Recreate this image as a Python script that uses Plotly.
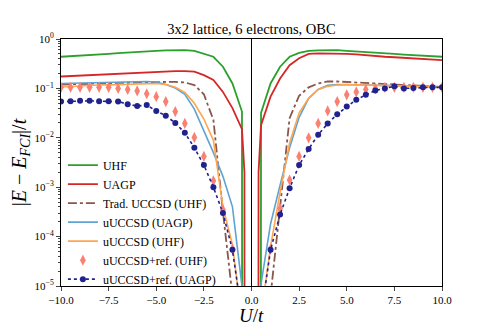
import plotly.graph_objects as go

# U/t grid (step 0.5)
U = [x * 0.5 for x in range(-20, 21)]

uhf = [0.437, 0.447, 0.457, 0.468, 0.490, 0.501, 0.519, 0.537, 0.550, 0.562,
       0.575, 0.589, 0.596, 0.596, 0.575, 0.51, 0.437, 0.275, 0.126, 0.034,
       0.0,
       0.032, 0.126, 0.275, 0.437, 0.525, 0.575, 0.589, 0.596, 0.596, 0.575,
       0.562, 0.550, 0.537, 0.513, 0.501, 0.484, 0.468, 0.457, 0.447, 0.437]

# UAGP has two extra points close to U=0
U_uagp = U[:20] + [-0.37, 0.0, 0.37] + U[21:]
uagp = [0.174, 0.178, 0.182, 0.186, 0.191, 0.195, 0.200, 0.204, 0.209, 0.214,
        0.219, 0.221, 0.224, 0.224, 0.219, 0.186, 0.148, 0.085, 0.040, 0.015,
        0.002, 0.0, 0.002,
        0.018, 0.068, 0.158, 0.295, 0.407, 0.501, 0.513, 0.513, 0.507, 0.501,
        0.490, 0.468, 0.452, 0.437, 0.427, 0.417, 0.403, 0.389, 0.380, 0.372]

trad_uccsd = [0.120, 0.122, 0.123, 0.125, 0.126, 0.127, 0.129, 0.130, 0.132, 0.133,
              0.135, 0.135, 0.135, 0.132, 0.117, 0.076, 0.023, 3.2e-4, 6.3e-6, 3e-7,
              0.0,
              3e-7, 6.3e-6, 4.5e-4, 0.025, 0.071, 0.105, 0.126, 0.138, 0.138, 0.135,
              0.132, 0.126, 0.123, 0.120, 0.117, 0.115, 0.112, 0.110, 0.108, 0.107]

uuccsd_uagp = [0.126, 0.127, 0.129, 0.130, 0.132, 0.133, 0.135, 0.136, 0.138, 0.138,
               0.135, 0.120, 0.102, 0.076, 0.038, 0.0141, 0.0050, 0.00166, 4.0e-4, 1.0e-5,
               0.0,
               1.1e-5, 1.8e-4, 1.1e-3, 6.3e-3, 0.026, 0.063, 0.095, 0.115, 0.120, 0.120,
               0.118, 0.117, 0.116, 0.115, 0.114, 0.112, 0.111, 0.110, 0.108, 0.107]

uuccsd_uhf = [0.107, 0.110, 0.112, 0.115, 0.117, 0.118, 0.120, 0.122, 0.123, 0.124,
              0.126, 0.120, 0.105, 0.083, 0.050, 0.024, 0.0089, 4.0e-4, 6.8e-5, 2.0e-6,
              0.0,
              2.5e-6, 6.3e-5, 7.9e-4, 7.9e-3, 0.032, 0.063, 0.095, 0.110, 0.117, 0.120,
              0.118, 0.117, 0.116, 0.115, 0.114, 0.112, 0.111, 0.110, 0.108, 0.107]

ref_uhf = [0.105, 0.105, 0.105, 0.105, 0.105, 0.105, 0.100, 0.095, 0.089, 0.078,
           0.068, 0.054, 0.034, 0.0195, 0.0102, 0.0042, 0.00135, 3.5e-4, 5.6e-5, 3e-6,
           0.0,
           3e-6, 5.6e-5, 3.7e-4, 1.4e-3, 0.0042, 0.010, 0.0195, 0.035, 0.054, 0.074,
           0.085, 0.095, 0.100, 0.105, 0.105, 0.105, 0.105, 0.105, 0.105, 0.105]

ref_uagp = [0.054, 0.055, 0.056, 0.056, 0.055, 0.055, 0.054, 0.048, 0.044, 0.046,
            0.035, 0.028, 0.020, 0.0126, 0.0063, 0.0028, 0.0010, 3.0e-4, 5.4e-5, 2.5e-6,
            0.0,
            2.5e-6, 5.4e-5, 2.8e-4, 9.5e-4, 0.0028, 0.0059, 0.0115, 0.0195, 0.030, 0.043,
            0.059, 0.074, 0.091, 0.100, 0.110, 0.100, 0.102, 0.105, 0.105, 0.105]

x_ticks = [-10, -7.5, -5, -2.5, 0, 2.5, 5, 7.5, 10]
y_ticks = [1e-5, 1e-4, 1e-3, 1e-2, 1e-1, 1e0]
y_ticktext = ["10<sup>−5</sup>", "10<sup>−4</sup>", "10<sup>−3</sup>",
              "10<sup>−2</sup>", "10<sup>−1</sup>", "10<sup>0</sup>"]


def clip0(vals):
    # exact zeros go to a tiny number so the line drops straight down (like mpl clip)
    return [v if v > 0 else 1e-300 for v in vals]


serif = "Liberation Serif"
fig = go.Figure()

fig.add_trace(go.Scatter(x=U, y=clip0(uhf), mode="lines", name="UHF",
                         line=dict(color="#2ca02c", width=1.8)))
fig.add_trace(go.Scatter(x=U_uagp, y=clip0(uagp), mode="lines", name="UAGP",
                         line=dict(color="#d62728", width=1.8)))
fig.add_trace(go.Scatter(x=U, y=clip0(trad_uccsd), mode="lines", name="Trad. UCCSD (UHF)",
                         line=dict(color="#8c564b", width=1.8, dash="dashdot")))
fig.add_trace(go.Scatter(x=U, y=clip0(uuccsd_uagp), mode="lines", name="uUCCSD (UAGP)",
                         line=dict(color="#5fa3d3", width=1.6)))
fig.add_trace(go.Scatter(x=U, y=clip0(uuccsd_uhf), mode="lines", name="uUCCSD (UHF)",
                         line=dict(color="#ffa54f", width=1.6)))
fig.add_trace(go.Scatter(x=U, y=ref_uhf, mode="markers", name="uUCCSD+ref. (UHF)",
                         marker=dict(symbol="diamond-tall", size=8, color="#fa8072")))
fig.add_trace(go.Scatter(x=U, y=ref_uagp, mode="lines+markers", name="uUCCSD+ref. (UAGP)",
                         line=dict(color="#22228f", width=1.6, dash="dot"),
                         marker=dict(symbol="circle", size=6, color="#22228f")))

# vertical line at U = 0
fig.add_vline(x=0, line=dict(color="black", width=1))

# x axis title as annotation so it sits closer to the tick labels
fig.add_annotation(text="<i>U</i>/<i>t</i>", xref="paper", yref="paper",
                   x=0.5, y=-0.118, yanchor="middle", showarrow=False,
                   font=dict(size=19))

minor_y = [m * 10.0 ** k for k in range(-5, 0) for m in range(2, 10)]

# the page body adds ~8px offset, so margins are shifted accordingly
fig.update_layout(
    width=491, height=327,
    margin=dict(l=53, r=57, t=31, b=49, autoexpand=False),
    plot_bgcolor="white", paper_bgcolor="white",
    font=dict(family=serif, color="black", size=11),
    title=dict(text="3x2 lattice, 6 electrons, OBC", x=0.5, xref="paper",
               y=1 - 21 / 327, yanchor="middle", font=dict(size=14.5)),
    showlegend=True,
    legend=dict(x=0.005, y=0.548, xanchor="left", yanchor="top",
                bgcolor="rgba(0,0,0,0)", font=dict(size=12)),
)

fig.update_xaxes(range=[-10, 10], tickvals=x_ticks, automargin=False,
                 tickformat=".1f", ticks="outside", ticklen=4, tickwidth=1,
                 showline=True, linecolor="black", linewidth=1, mirror=True,
                 showgrid=False, zeroline=False)
fig.update_yaxes(type="log", range=[-5, 0], tickvals=y_ticks, ticktext=y_ticktext,
                 automargin=False,
                 ticks="outside", ticklen=4, tickwidth=1,
                 minor=dict(tickvals=minor_y, ticks="outside", ticklen=2, tickwidth=0.8),
                 showline=True, linecolor="black", linewidth=1, mirror=True,
                 showgrid=False, zeroline=False,
                 title=dict(text="|<i>E</i> − <i>E</i><sub><i>FCI</i></sub>|/<i>t</i>",
                            font=dict(size=20), standoff=9))

fig.write_html("out.html")
